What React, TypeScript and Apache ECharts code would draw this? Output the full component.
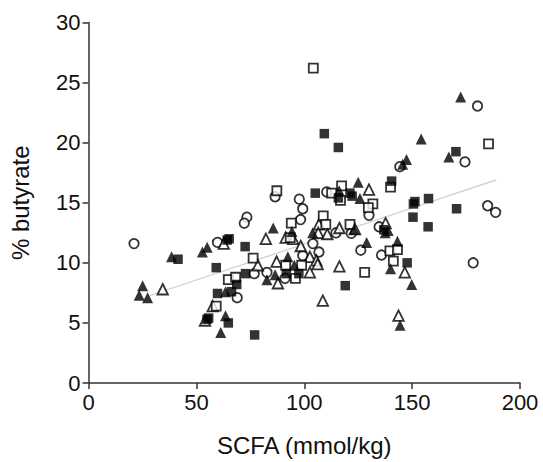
import React, { useEffect, useRef } from "react";
import * as echarts from "echarts";

const xAxisMin = 0;
const xAxisMax = 200;
const xAxisStep = 50;
const yAxisMin = 0;
const yAxisMax = 30;
const yAxisStep = 5;
const xTitle = "SCFA (mmol/kg)";
const yTitle = "% butyrate";

const filledTriangles: [number, number][] = [
  [25.1, 8.1], [23.5, 7.3], [27.4, 7.1], [38.5, 10.5], [52.8, 10.9], [55, 11.3],
  [63.5, 5.6], [61.3, 4.2], [63.5, 7.6], [85.6, 12.9], [86.5, 9.0], [82.7, 8.6],
  [94.3, 12.6], [92.4, 10.5], [95.4, 9.8], [103.9, 12.5], [123.1, 12.8], [128.9, 11.7],
  [125.8, 15.35], [125, 16.7], [138.9, 12.7], [143.2, 11.8], [140, 9.5], [144.4, 4.8],
  [149.8, 8.2], [172.5, 23.8], [154.2, 20.3], [167, 18.8], [147.4, 18.6], [145.6, 18.2],
  [137.5, 12.5], [116.2, 16.0],
];

const openTriangles: [number, number][] = [
  [34.4, 7.8], [54, 5.2], [57.6, 6.4], [62.7, 11.6], [78.5, 9.8], [82.2, 12.0],
  [87.2, 10.1], [87.8, 8.3], [91.4, 12.1], [94.9, 12.0], [98.4, 11.4], [102.6, 10.5],
  [105.6, 10.2], [106.2, 9.9], [102.6, 9.2], [108.6, 6.85], [116.3, 9.7], [106.8, 13.2],
  [106.5, 12.5], [110.7, 12.4], [116.3, 12.9], [130, 16.1], [137.7, 13.3], [146.6, 9.2],
  [143.7, 5.6], [123.5, 12.8],
];

const openCircles: [number, number][] = [
  [21.1, 11.6], [73.4, 13.8], [72.2, 13.3], [59.8, 11.7], [68.9, 7.1], [76.8, 9.1],
  [82.7, 9.2], [86.5, 15.5], [97.7, 15.3], [99.3, 14.5], [98.3, 13.6], [99.3, 10.6],
  [104, 11.6], [106.8, 10.9], [91.1, 8.7], [114.7, 12.5], [121.8, 12.45], [130, 13.95],
  [126.2, 11.05], [135.8, 10.65], [134.7, 13.0], [185, 14.75], [188.7, 14.2], [178.3, 10.0],
  [180.3, 23.05], [174.5, 18.4], [144.3, 18.0], [110.4, 15.9],
];

const openSquares: [number, number][] = [
  [104.2, 26.2], [87.3, 16.0], [185.4, 19.9], [140, 16.3], [117.3, 16.4], [112.7, 15.8],
  [131.8, 14.9], [129.7, 14.6], [108.8, 13.9], [110, 13.2], [94, 13.3], [93.5, 12.1],
  [121.2, 13.2], [76.3, 10.4], [64.8, 8.6], [68.2, 8.8], [59.2, 6.4], [91.4, 9.8],
  [95.9, 8.7], [98.8, 9.8], [128, 9.2], [139.7, 11.0], [143.2, 11.1], [141.3, 10.15],
  [116.8, 15.2],
];

const filledSquares: [number, number][] = [
  [41.5, 10.3], [59.2, 9.6], [64.3, 11.9], [65.2, 12.0], [72.6, 11.35], [72.8, 9.1],
  [68.7, 8.2], [59.8, 7.45], [66.3, 7.6], [55.7, 5.4], [54.9, 5.3], [64.8, 5.0],
  [77, 4.0], [91.7, 9.1], [97.5, 9.1], [105.1, 15.8], [109.3, 20.75], [115.8, 19.6],
  [115.8, 15.4], [121.2, 15.8], [122.2, 15.55], [140.5, 16.8], [119, 8.1], [136.9, 12.75],
  [147.7, 10.0], [150.4, 13.8], [157.4, 13.0], [150.6, 14.9], [151.3, 15.1], [157.6, 15.35],
  [170.6, 14.5], [170.3, 19.25],
];

const trendLine: [number, number][] = [
  [28.5, 7.28],
  [189, 16.9],
];

export default function App() {
  const ref = useRef<HTMLDivElement>(null);
  useEffect(() => {
    if (!ref.current) return;
    const chart = echarts.init(ref.current, null, { renderer: "svg" });
    const font = "'Liberation Sans', Arial, Helvetica, sans-serif";
    const axisColor = "#333";
    const textColor = "#111";
    const openStyle = { color: "#fff", borderColor: "#000", borderWidth: 1.8 };
    const filledStyle = { color: "#000" };
    chart.setOption({
      animation: false,
      backgroundColor: "#fff",
      textStyle: { fontFamily: font },
      grid: { left: 88.5, right: 23, top: 22.5, bottom: 74.5, containLabel: false },
      xAxis: {
        type: "value",
        min: xAxisMin,
        max: xAxisMax,
        interval: xAxisStep,
        name: xTitle,
        nameLocation: "middle",
        nameGap: 50,
        nameTextStyle: { fontSize: 24, color: textColor, fontFamily: font },
        axisLine: { show: true, onZero: false, lineStyle: { color: axisColor, width: 1.5 } },
        axisTick: { show: true, inside: false, length: 6, lineStyle: { color: axisColor, width: 1.5 } },
        axisLabel: { fontSize: 22, color: textColor, margin: 8, fontFamily: font },
        splitLine: { show: false },
      },
      yAxis: {
        type: "value",
        min: yAxisMin,
        max: yAxisMax,
        interval: yAxisStep,
        name: yTitle,
        nameLocation: "middle",
        nameGap: 56,
        nameTextStyle: { fontSize: 24, color: textColor, fontFamily: font },
        axisLine: { show: true, onZero: false, lineStyle: { color: axisColor, width: 1.5 } },
        axisTick: { show: true, inside: false, length: 6, lineStyle: { color: axisColor, width: 1.5 } },
        axisLabel: { fontSize: 22, color: textColor, margin: 8, fontFamily: font },
        splitLine: { show: false },
      },
      series: [
        {
          type: "line",
          data: trendLine,
          symbol: "none",
          lineStyle: { color: "#cfcfcf", width: 1.2 },
          z: 1,
          silent: true,
        },
        { type: "scatter", data: openCircles, symbol: "circle", symbolSize: 9.5, itemStyle: openStyle, z: 2 },
        { type: "scatter", data: openTriangles, symbol: "triangle", symbolSize: 10.5, itemStyle: openStyle, z: 2 },
        { type: "scatter", data: openSquares, symbol: "rect", symbolSize: 9, itemStyle: openStyle, z: 2 },
        { type: "scatter", data: filledTriangles, symbol: "triangle", symbolSize: 11, itemStyle: filledStyle, z: 3 },
        { type: "scatter", data: filledSquares, symbol: "rect", symbolSize: 9.5, itemStyle: filledStyle, z: 3 },
      ],
    });
    return () => chart.dispose();
  }, []);
  return (
    <div
      ref={ref}
      style={{ position: "fixed", left: 0, top: 0, width: 543, height: 462, background: "#fff" }}
    />
  );
}
